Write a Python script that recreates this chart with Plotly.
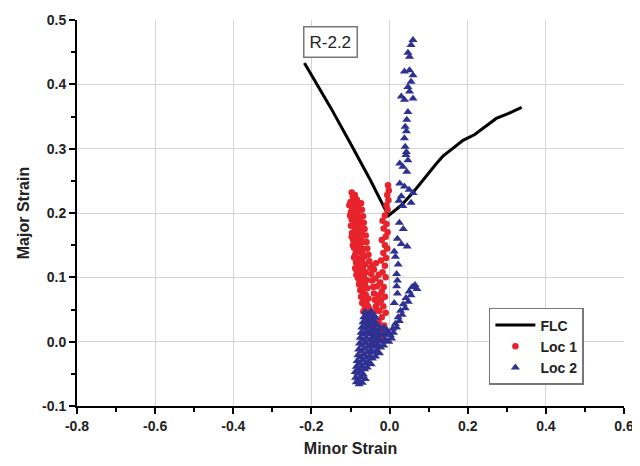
import plotly.graph_objects as go

# ---------------- data ----------------

FLC_X = [-0.218, -0.15, -0.10, -0.05, -0.003,
         0.03, 0.06, 0.09, 0.12, 0.136, 0.165, 0.188, 0.218, 0.245, 0.273, 0.305, 0.338]
FLC_Y = [0.433, 0.363, 0.308, 0.252, 0.196,
         0.212, 0.232, 0.255, 0.277, 0.288, 0.302, 0.313, 0.322, 0.334, 0.347, 0.355, 0.364]

X_TICKS = [-0.8, -0.6, -0.4, -0.2, 0.0, 0.2, 0.4, 0.6]
X_LABELS = ['-0.8', '-0.6', '-0.4', '-0.2', '0.0', '0.2', '0.4', '0.6']
Y_TICKS = [-0.1, 0.0, 0.1, 0.2, 0.3, 0.4, 0.5]
Y_LABELS = ['-0.1', '0.0', '0.1', '0.2', '0.3', '0.4', '0.5']

LOC1 = [
    # dense band
    (-0.097, 0.232), (-0.089, 0.228), (-0.093, 0.224), (-0.084, 0.221), (-0.100, 0.217),
    (-0.091, 0.215), (-0.080, 0.213), (-0.096, 0.209), (-0.087, 0.206), (-0.078, 0.204),
    (-0.099, 0.201), (-0.083, 0.198), (-0.092, 0.195), (-0.075, 0.193), (-0.097, 0.190),
    (-0.086, 0.187), (-0.079, 0.184), (-0.094, 0.181), (-0.074, 0.178), (-0.089, 0.176),
    (-0.082, 0.172), (-0.096, 0.169), (-0.071, 0.167), (-0.087, 0.164), (-0.078, 0.161),
    (-0.093, 0.158), (-0.070, 0.155), (-0.084, 0.152), (-0.076, 0.149), (-0.091, 0.146),
    (-0.067, 0.144), (-0.081, 0.141), (-0.073, 0.138), (-0.088, 0.135), (-0.065, 0.132),
    (-0.079, 0.129), (-0.071, 0.126), (-0.086, 0.123), (-0.063, 0.120), (-0.076, 0.117),
    (-0.069, 0.114), (-0.084, 0.111), (-0.061, 0.108), (-0.074, 0.105), (-0.066, 0.102),
    (-0.081, 0.099), (-0.059, 0.096), (-0.071, 0.093), (-0.078, 0.089), (-0.064, 0.087),
    (-0.057, 0.083), (-0.075, 0.080), (-0.068, 0.077), (-0.061, 0.073), (-0.073, 0.070),
    (-0.054, 0.067), (-0.066, 0.064), (-0.070, 0.060), (-0.058, 0.057), (-0.063, 0.053),
    (-0.051, 0.050), (-0.067, 0.047), (-0.056, 0.044), (-0.060, 0.040), (-0.048, 0.037),
    (-0.053, 0.033), (-0.045, 0.029), (-0.050, 0.025), (-0.042, 0.021), (-0.046, 0.016),
    (-0.038, 0.012), (-0.041, 0.007), (-0.034, 0.003), (-0.036, -0.002), (-0.030, -0.008),
    (-0.094, 0.226), (-0.082, 0.218), (-0.088, 0.200), (-0.080, 0.190), (-0.085, 0.170),
    (-0.077, 0.175), (-0.090, 0.185), (-0.083, 0.156), (-0.073, 0.158), (-0.079, 0.145),
    (-0.086, 0.140), (-0.069, 0.135), (-0.075, 0.125), (-0.082, 0.117), (-0.067, 0.110),
    (-0.072, 0.098), (-0.077, 0.092), (-0.063, 0.090), (-0.070, 0.083), (-0.065, 0.070),
    (-0.060, 0.062), (-0.055, 0.055), (-0.062, 0.045), (-0.052, 0.042), (-0.046, 0.034),
    (-0.057, 0.036), (-0.043, 0.026), (-0.039, 0.018),
    # right side of the band
    (-0.073, 0.215), (-0.071, 0.205), (-0.068, 0.195), (-0.066, 0.185), (-0.064, 0.175),
    (-0.061, 0.165), (-0.059, 0.155), (-0.057, 0.145), (-0.054, 0.135), (-0.052, 0.125),
    (-0.049, 0.115), (-0.047, 0.105), (-0.045, 0.095), (-0.042, 0.085), (-0.040, 0.075),
    (-0.038, 0.065), (-0.035, 0.055), (-0.034, 0.048),
    (-0.103, 0.212), (-0.101, 0.196), (-0.099, 0.180), (-0.097, 0.163), (-0.094, 0.150),
    (-0.091, 0.131), (-0.088, 0.114), (-0.085, 0.104),
    # sparse branch near x = 0
    (-0.004, 0.243), (-0.002, 0.235), (-0.006, 0.228), (-0.003, 0.220), (-0.008, 0.212),
    (-0.005, 0.205), (-0.012, 0.196), (-0.018, 0.188), (-0.008, 0.183), (-0.015, 0.176),
    (-0.005, 0.170), (-0.010, 0.163), (-0.020, 0.158), (-0.012, 0.150), (-0.006, 0.145),
    (-0.016, 0.138), (-0.009, 0.130), (-0.022, 0.126), (-0.035, 0.122), (-0.044, 0.118),
    (-0.040, 0.112), (-0.012, 0.118), (-0.018, 0.108), (-0.028, 0.104), (-0.036, 0.098),
    (-0.010, 0.100), (-0.024, 0.092), (-0.032, 0.086), (-0.015, 0.085), (-0.020, 0.078),
    (-0.028, 0.072), (-0.012, 0.070), (-0.022, 0.064), (-0.030, 0.060), (-0.016, 0.055),
    (-0.026, 0.048), (-0.010, 0.045), (-0.020, 0.038), (-0.028, 0.030), (-0.014, 0.025),
    (-0.022, 0.018), (-0.026, 0.012), (-0.018, 0.008),
]

LOC2 = [
    # upper stripe
    (0.060, 0.469), (0.055, 0.461), (0.047, 0.449), (0.051, 0.443), (0.038, 0.420),
    (0.051, 0.422), (0.060, 0.414), (0.055, 0.404), (0.047, 0.396), (0.030, 0.381),
    (0.051, 0.389), (0.060, 0.378), (0.038, 0.376), (0.047, 0.357), (0.044, 0.345),
    (0.040, 0.334), (0.043, 0.327), (0.038, 0.316), (0.040, 0.303), (0.043, 0.295),
    (0.042, 0.290), (0.047, 0.282), (0.026, 0.277), (0.034, 0.272), (0.044, 0.264),
    (0.026, 0.246), (0.038, 0.241), (0.050, 0.236), (0.060, 0.231), (0.030, 0.226),
    (0.024, 0.219), (0.055, 0.216), (0.034, 0.211), (0.035, 0.175), (0.025, 0.185),
    (0.020, 0.160), (0.030, 0.152), (0.045, 0.148), (0.012, 0.140), (0.015, 0.132),
    (0.022, 0.120), (0.018, 0.105), (0.020, 0.095),
    # right arm
    (0.065, 0.088), (0.058, 0.085), (0.070, 0.082), (0.050, 0.078), (0.055, 0.072),
    (0.042, 0.068), (0.048, 0.062), (0.035, 0.058), (0.040, 0.052), (0.028, 0.048),
    (0.032, 0.042), (0.022, 0.038), (0.025, 0.032), (0.015, 0.028), (0.018, 0.022),
    (0.008, 0.020), (0.010, 0.014), (0.002, 0.010), (0.005, 0.005), (-0.002, 0.000),
    (0.018, 0.086), (0.020, 0.075), (0.012, 0.060),
    # lower cluster
    (-0.062, 0.046), (-0.054, 0.043), (-0.047, 0.047), (-0.040, 0.041),
    (-0.066, 0.038), (-0.058, 0.036), (-0.050, 0.039), (-0.043, 0.034), (-0.036, 0.037),
    (-0.068, 0.030), (-0.061, 0.028), (-0.053, 0.031), (-0.045, 0.027), (-0.037, 0.029),
    (-0.030, 0.025), (-0.071, 0.022), (-0.063, 0.020), (-0.056, 0.023), (-0.048, 0.019),
    (-0.040, 0.021), (-0.032, 0.017), (-0.024, 0.020), (-0.015, 0.022), (-0.007, 0.018),
    (-0.073, 0.014), (-0.066, 0.012), (-0.058, 0.015), (-0.050, 0.011), (-0.043, 0.013),
    (-0.035, 0.009), (-0.027, 0.012), (-0.019, 0.010), (-0.011, 0.013), (-0.003, 0.011),
    (-0.075, 0.006), (-0.068, 0.003), (-0.060, 0.006), (-0.052, 0.002), (-0.045, 0.005),
    (-0.037, 0.001), (-0.029, 0.004), (-0.021, 0.000), (-0.013, 0.003), (-0.006, 0.001),
    (-0.077, -0.003), (-0.070, -0.006), (-0.062, -0.002), (-0.054, -0.007), (-0.047, -0.004),
    (-0.039, -0.008), (-0.031, -0.005), (-0.023, -0.009), (-0.015, -0.006),
    (-0.079, -0.012), (-0.072, -0.015), (-0.064, -0.011), (-0.056, -0.016), (-0.049, -0.013),
    (-0.041, -0.017), (-0.033, -0.014), (-0.026, -0.018),
    (-0.081, -0.021), (-0.074, -0.024), (-0.066, -0.020), (-0.059, -0.025), (-0.051, -0.022),
    (-0.044, -0.026), (-0.036, -0.023),
    (-0.083, -0.030), (-0.076, -0.033), (-0.069, -0.029), (-0.061, -0.034), (-0.054, -0.031),
    (-0.047, -0.035),
    (-0.085, -0.039), (-0.078, -0.042), (-0.071, -0.038), (-0.064, -0.043), (-0.057, -0.040),
    (-0.088, -0.047), (-0.081, -0.050), (-0.074, -0.046), (-0.067, -0.051),
    (-0.087, -0.056), (-0.080, -0.059), (-0.073, -0.055), (-0.062, -0.058),
    (-0.085, -0.063), (-0.078, -0.066), (-0.070, -0.064),
]

loc1_x, loc1_y = zip(*LOC1)
loc2_x, loc2_y = zip(*LOC2)

RED = '#e8232b'
BLUE = '#2e3192'
FONT = 'Liberation Sans, Arial, sans-serif'

fig = go.Figure()

fig.add_trace(go.Scatter(
    x=FLC_X, y=FLC_Y, name='FLC', mode='lines',
    line=dict(color='black', width=3), legendrank=1
))
fig.add_trace(go.Scatter(
    x=loc1_x, y=loc1_y, name='Loc 1', mode='markers',
    marker=dict(color=RED, size=6.5, symbol='circle'), legendrank=2
))
fig.add_trace(go.Scatter(
    x=loc2_x, y=loc2_y, name='Loc 2', mode='markers',
    marker=dict(color=BLUE, size=8, symbol='triangle-up'), legendrank=3
))

axis_common = dict(
    showline=True, linecolor='black', linewidth=2,
    ticks='outside', ticklen=6, tickwidth=2, tickcolor='black',
    showgrid=True, gridcolor='#d4d4d4', gridwidth=1,
    zeroline=False, mirror=False, automargin=False,
    tickfont=dict(family=FONT, size=14, color='#222'),
    minor=dict(ticks='outside', ticklen=4, tickwidth=2, tickcolor='black', showgrid=False,
               dtick=0.1),
)

fig.update_xaxes(
    range=[-0.8, 0.6], tickvals=X_TICKS,
    ticktext=['<b>%s</b>' % t for t in X_LABELS], **axis_common,
    title=dict(text='<b>Minor Strain</b>', font=dict(family=FONT, size=16, color='#222'),
               standoff=10),
)
axis_common['minor']['dtick'] = 0.05
fig.update_yaxes(
    range=[-0.1, 0.5], tickvals=Y_TICKS,
    ticktext=['<b>%s</b>' % t for t in Y_LABELS], **axis_common,
    title=dict(text='<b>Major Strain</b>', font=dict(family=FONT, size=16, color='#222'),
               standoff=8),
)

fig.add_annotation(
    x=-0.151, y=0.466, xref='x', yref='y', text='R-2.2', showarrow=False,
    font=dict(family=FONT, size=17, color='#222'),
    bordercolor='#777', borderwidth=1.5, borderpad=5, bgcolor='white'
)

# the page puts the figure 8 px in from the top-left corner
fig.update_layout(
    width=632, height=458,
    margin=dict(l=69, r=16, t=12, b=60),
    plot_bgcolor='white', paper_bgcolor='white',
    font=dict(family=FONT),
    legend=dict(
        x=0.753, y=0.254, xanchor='left', yanchor='top',
        bordercolor='#777', borderwidth=1.5, bgcolor='white',
        font=dict(family=FONT, size=14, color='#222', weight='bold'),
        itemwidth=40, tracegroupgap=0,
    ),
)

fig.write_html("out.html")
